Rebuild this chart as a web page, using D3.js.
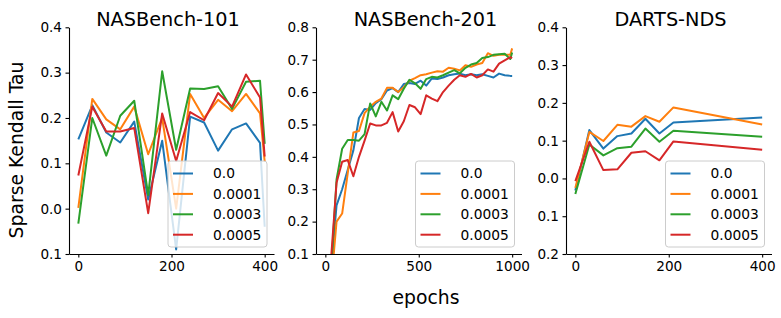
<!DOCTYPE html>
<html>
<head>
<meta charset="utf-8">
<script src="https://cdn.jsdelivr.net/npm/d3@7"></script>
<style>
  body { margin: 0; background: #fff; }
  svg { font-family: "DejaVu Sans", sans-serif; }
  .tick text { font-size: 13.6px; fill: #000; font-family: "DejaVu Sans", sans-serif; }
  .domain, .tick line { stroke: #000; stroke-width: 1.1px; }
  .line { fill: none; stroke-width: 2px; stroke-linejoin: round; }
  .title { font-size: 19.3px; text-anchor: middle; }
  .lab { font-size: 18.8px; text-anchor: middle; }
  .leg text { font-size: 13.8px; }
</style>
</head>
<body>
<svg id="chart" width="781" height="318"></svg>
<script>
// legend names and colours
var series = ["0.0", "0.0001", "0.0003", "0.0005"];
var colors = ["#1f77b4", "#ff7f0e", "#2ca02c", "#d62728"];

// NASBench-101
var ep101 = [0, 30, 60, 90, 120, 150, 180, 210, 240, 270, 300, 330, 360, 390, 400];
var nb101_a = [0.153, 0.228, 0.168, 0.146, 0.192, 0.02, 0.15, -0.09, 0.203, 0.19, 0.128, 0.175, 0.188, 0.145, -0.04];
var nb101_b = [0.002, 0.242, 0.197, 0.175, 0.225, 0.12, 0.2, 0.0, 0.253, 0.2, 0.24, 0.215, 0.253, 0.21, 0.104];
var nb101_c = [-0.033, 0.2, 0.117, 0.205, 0.238, 0.03, 0.303, 0.13, 0.265, 0.264, 0.27, 0.22, 0.28, 0.282, 0.143];
var nb101_d = [0.073, 0.225, 0.17, 0.17, 0.178, -0.01, 0.21, 0.105, 0.213, 0.195, 0.255, 0.225, 0.296, 0.245, 0.115];

// NASBench-201
var ep201 = [30, 60, 90, 120, 150, 180, 210, 240, 270, 300, 330, 360, 390, 420, 450, 480, 510,
             540, 570, 600, 630, 660, 690, 720, 750, 780, 810, 840, 870, 900, 930, 960, 990, 1000];
var nb201_a = [0.05, 0.25, 0.30, 0.36, 0.42, 0.52, 0.548, 0.545, 0.566, 0.578, 0.605, 0.612, 0.60, 0.625, 0.628, 0.625, 0.635,
               0.62, 0.642, 0.64, 0.645, 0.652, 0.655, 0.657, 0.652, 0.655, 0.652, 0.655, 0.65, 0.645, 0.657, 0.652, 0.65, 0.65];
var nb201_b = [0.0, 0.2, 0.225, 0.35, 0.475, 0.48, 0.535, 0.555, 0.57, 0.58, 0.613, 0.613, 0.60, 0.615, 0.635, 0.643, 0.652,
               0.655, 0.66, 0.664, 0.663, 0.675, 0.672, 0.667, 0.683, 0.678, 0.685, 0.69, 0.72, 0.712, 0.715, 0.715, 0.715, 0.735];
var nb201_c = [0.04, 0.33, 0.425, 0.452, 0.452, 0.45, 0.47, 0.565, 0.525, 0.57, 0.543, 0.59, 0.578, 0.61, 0.638, 0.627, 0.61,
               0.64, 0.647, 0.645, 0.652, 0.66, 0.668, 0.658, 0.675, 0.685, 0.69, 0.705, 0.708, 0.715, 0.717, 0.718, 0.702, 0.722];
var nb201_d = [0.08, 0.32, 0.385, 0.39, 0.34, 0.40, 0.45, 0.503, 0.497, 0.497, 0.505, 0.538, 0.478, 0.51, 0.56, 0.553, 0.532,
               0.59, 0.58, 0.572, 0.60, 0.62, 0.638, 0.652, 0.647, 0.656, 0.645, 0.652, 0.67, 0.663, 0.688, 0.698, 0.708, 0.705];

// DARTS-NDS
var epNds = [0, 30, 60, 90, 120, 150, 180, 210, 400];
var nds_a = [-0.032, 0.128, 0.079, 0.112, 0.119, 0.158, 0.119, 0.148, 0.161];
var nds_b = [-0.025, 0.123, 0.099, 0.142, 0.137, 0.165, 0.15, 0.188, 0.143];
var nds_c = [-0.041, 0.09, 0.061, 0.08, 0.084, 0.132, 0.097, 0.126, 0.11];
var nds_d = [-0.007, 0.097, 0.022, 0.024, 0.068, 0.072, 0.048, 0.098, 0.076];

// tick labels as printed (minus sign glyph missing in the original)
var yTicks101 = [-0.1, 0, 0.1, 0.2, 0.3, 0.4];
var yLabels101 = ["0.1", "0.0", "0.1", "0.2", "0.3", "0.4"];
var yTicks201 = [0.1, 0.2, 0.3, 0.4, 0.5, 0.6, 0.7, 0.8];
var yLabels201 = ["0.1", "0.2", "0.3", "0.4", "0.5", "0.6", "0.7", "0.8"];
var yTicksNds = [-0.2, -0.1, 0, 0.1, 0.2, 0.3, 0.4];
var yLabelsNds = ["0.2", "0.1", "0.0", "0.1", "0.2", "0.3", "0.4"];

var panels = [
  {title: "NASBench-101", left: 69, right: 274, titleX: 168, x: ep101, ys: [nb101_a, nb101_b, nb101_c, nb101_d],
   xDom: [-20, 420], yDom: [-0.1, 0.4], xTicks: [0, 200, 400], yTicks: yTicks101, yLabels: yLabels101},
  {title: "NASBench-201", left: 316, right: 521.5, titleX: 425.5, x: ep201, ys: [nb201_a, nb201_b, nb201_c, nb201_d],
   xDom: [-50, 1050], yDom: [0.1, 0.8], xTicks: [0, 500, 1000], yTicks: yTicks201, yLabels: yLabels201},
  {title: "DARTS-NDS", left: 566, right: 771.5, titleX: 670.5, x: epNds, ys: [nds_a, nds_b, nds_c, nds_d],
   xDom: [-20, 420], yDom: [-0.2, 0.4], xTicks: [0, 200, 400], yTicks: yTicksNds, yLabels: yLabelsNds}
];

var plotTop = 27.3, plotBottom = 254;
var svg = d3.select("#chart");

panels.forEach(function(p, k) {
  var x = d3.scaleLinear().domain(p.xDom).range([p.left, p.right]);
  var y = d3.scaleLinear().domain(p.yDom).range([plotBottom, plotTop]);

  svg.append("clipPath").attr("id", "clip" + k)
     .append("rect").attr("x", p.left).attr("y", plotTop)
     .attr("width", p.right - p.left).attr("height", plotBottom - plotTop);

  var line = d3.line()
               .x(function(d) { return x(d[0]); })
               .y(function(d) { return y(d[1]); });

  var g = svg.append("g").attr("clip-path", "url(#clip" + k + ")");
  p.ys.forEach(function(vals, i) {
    g.append("path")
     .attr("class", "line")
     .attr("stroke", colors[i])
     .attr("d", line(d3.zip(p.x, vals)));
  });

  svg.append("g")
     .attr("transform", "translate(0," + plotBottom + ")")
     .call(d3.axisBottom(x).tickValues(p.xTicks).tickFormat(d3.format("d"))
             .tickSize(3.5).tickPadding(3.5).tickSizeOuter(0));

  svg.append("g")
     .attr("transform", "translate(" + p.left + ",0)")
     .call(d3.axisLeft(y).tickValues(p.yTicks).tickFormat(function(d, i) { return p.yLabels[i]; })
             .tickSize(3.5).tickPadding(3.5).tickSizeOuter(0));

  svg.append("text").attr("class", "title")
     .attr("x", p.titleX).attr("y", 25.5).text(p.title);

  // legend
  var lw = 99, lh = 86;
  var leg = svg.append("g").attr("class", "leg")
               .attr("transform", "translate(" + (p.right - 7 - lw) + "," + (plotBottom - 7 - lh) + ")");
  leg.append("rect").attr("width", lw).attr("height", lh).attr("rx", 3)
     .attr("fill", "#fff").attr("fill-opacity", 0.8)
     .attr("stroke", "#cccccc").attr("stroke-width", 1);
  series.forEach(function(s, i) {
    var cy = 12.5 + i * 20.4;
    leg.append("line").attr("x1", 5).attr("x2", 25).attr("y1", cy).attr("y2", cy)
       .attr("stroke", colors[i]).attr("stroke-width", 2);
    leg.append("text").attr("x", 45).attr("y", cy).attr("dy", "0.36em").text(s);
  });
});

svg.append("text").attr("class", "lab")
   .attr("transform", "translate(22.5,150) rotate(-90)")
   .text("Sparse Kendall Tau");

svg.append("text").attr("class", "lab")
   .attr("x", 426).attr("y", 304).text("epochs");
</script>
</body>
</html>
